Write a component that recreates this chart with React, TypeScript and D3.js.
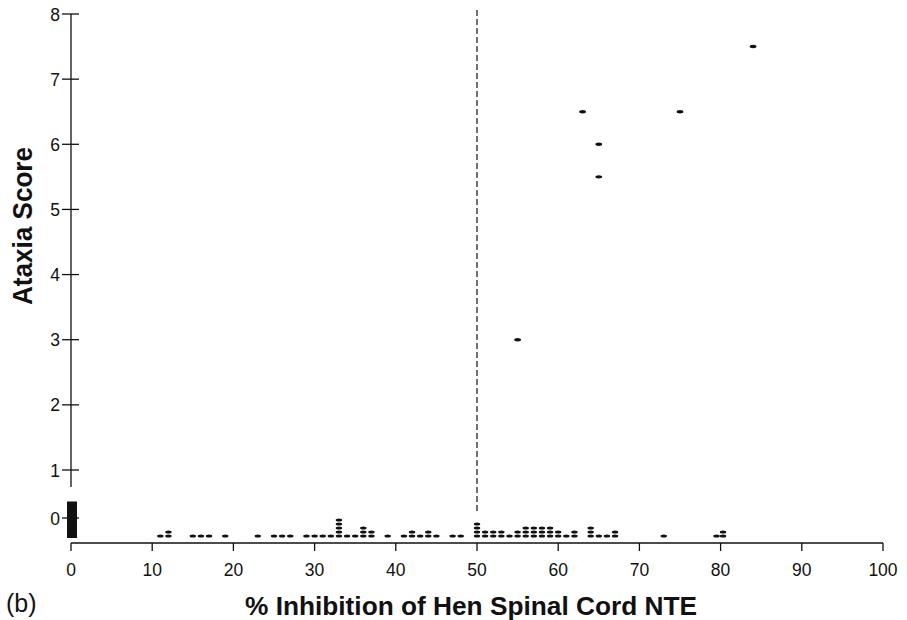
import React from "react";
import * as d3 from "d3";

// Score-0 observations: % inhibition and number of stacked hens at that value
const zeroX = [11, 12, 15, 16, 17, 19, 23, 25, 26, 27, 29, 30, 31, 32, 33, 34, 35, 36, 37, 39, 41, 42, 43, 44, 45, 47, 48, 50, 51, 52, 53, 54, 55, 56, 57, 58, 59, 60, 61, 62, 64, 65, 66, 67, 73, 79.5, 80.3];
const zeroCount = [1, 2, 1, 1, 1, 1, 1, 1, 1, 1, 1, 1, 1, 1, 5, 1, 1, 3, 2, 1, 1, 2, 1, 2, 1, 1, 1, 4, 2, 2, 2, 1, 2, 3, 3, 3, 3, 2, 1, 2, 3, 1, 1, 2, 1, 1, 2];
// Controls at 0 % inhibition, score 0 (solid block)
const controlCount = 9;

// Ataxic hens
const ataxX = [55, 63, 65, 65, 75, 84];
const ataxY = [3, 6.5, 6, 5.5, 6.5, 7.5];

const xTicks = [0, 10, 20, 30, 40, 50, 60, 70, 80, 90, 100];
const yTicks = [1, 2, 3, 4, 5, 6, 7, 8];
const thresholdX = 50;

export default function App() {
  const x = d3.scaleLinear().domain([0, 100]).range([71, 883]);
  const y = d3.scaleLinear().domain([1, 8]).range([470, 14]);
  const yZeroTick = 518;
  const stack = d3.scaleLinear().domain([0, 1]).range([536, 532]);
  const axisY = 543;
  const font = "'Liberation Sans', Arial, Helvetica, sans-serif";
  const ink = "#111";

  const zeroDots: { cx: number; cy: number }[] = [];
  zeroX.forEach((v, i) => {
    for (let k = 0; k < zeroCount[i]; k++) zeroDots.push({ cx: x(v), cy: stack(k) });
  });
  const controlDots: number[] = d3.range(controlCount).map((k) => stack(k));

  return (
    <svg width={907} height={620} style={{ position: "absolute", left: 0, top: 0, background: "#fff" }} fontFamily={font}>
      <rect width={907} height={620} fill="#fff" />
      {/* y axis main segment */}
      <line x1={x(0)} x2={x(0)} y1={y(8)} y2={487} stroke={ink} strokeWidth={1.3} />
      {yTicks.map((t) => (
        <g key={t}>
          <line x1={62} x2={79} y1={y(t)} y2={y(t)} stroke={ink} strokeWidth={1.3} />
          <text x={60} y={y(t) + 6.5} textAnchor="end" fontSize={17.5} fill={ink}>{t}</text>
        </g>
      ))}
      {/* zero tick */}
      <line x1={62} x2={79} y1={yZeroTick} y2={yZeroTick} stroke={ink} strokeWidth={1.3} />
      <text x={60} y={yZeroTick + 6.5} textAnchor="end" fontSize={17.5} fill={ink}>0</text>

      {/* x axis */}
      <line x1={x(0)} x2={x(100)} y1={axisY} y2={axisY} stroke={ink} strokeWidth={1.4} />
      {xTicks.map((t) => (
        <g key={t}>
          <line x1={x(t)} x2={x(t)} y1={axisY} y2={axisY + 8} stroke={ink} strokeWidth={1.3} />
          <text x={x(t)} y={576} textAnchor="middle" fontSize={17.5} fill={ink}>{t}</text>
        </g>
      ))}

      {/* threshold dashed line */}
      <line x1={x(thresholdX)} x2={x(thresholdX)} y1={10} y2={514} stroke={ink} strokeWidth={1.2} strokeDasharray="6,3" />

      {/* controls block */}
      {controlDots.map((cy, k) => (
        <rect key={"c" + k} x={x(0) - 4} y={cy - 2.5} width={10} height={4.5} fill={ink} />
      ))}

      {/* score-0 dots */}
      {zeroDots.map((d, i) => (
        <ellipse key={"z" + i} cx={d.cx} cy={d.cy} rx={3.2} ry={1.5} fill={ink} />
      ))}

      {/* ataxic points */}
      {ataxX.map((v, i) => (
        <ellipse key={"a" + i} cx={x(v)} cy={y(ataxY[i])} rx={3.4} ry={1.7} fill={ink} />
      ))}

      {/* titles */}
      <text transform="translate(32,226) rotate(-90)" textAnchor="middle" fontSize={27} fontWeight="bold" fill={ink} textLength={158} lengthAdjust="spacingAndGlyphs">Ataxia Score</text>
      <text x={471} y={615} textAnchor="middle" fontSize={26} fontWeight="bold" fill={ink} textLength={452} lengthAdjust="spacingAndGlyphs">% Inhibition of Hen Spinal Cord NTE</text>
      <text x={6} y={612} fontSize={25} fill={ink}>(b)</text>
    </svg>
  );
}
